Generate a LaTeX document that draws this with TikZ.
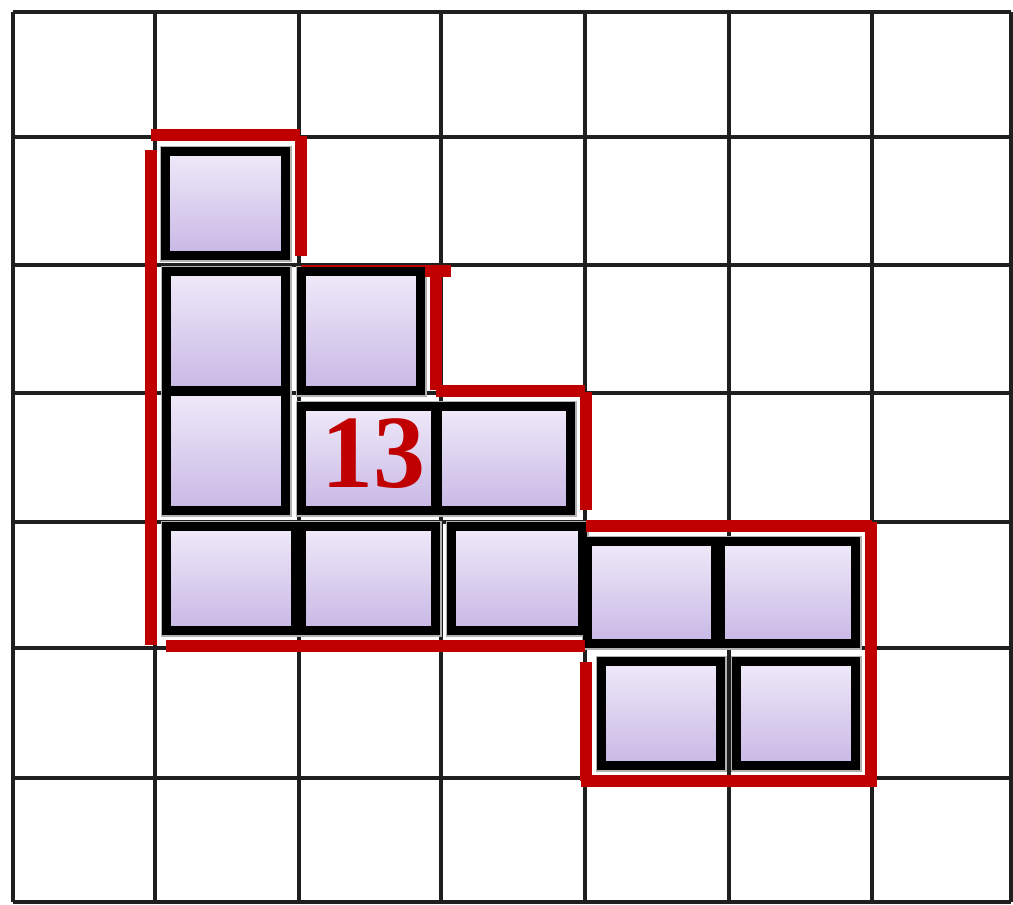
\documentclass[tikz,border=0pt]{standalone}
\usepackage{fontspec}
\newfontfamily\numfont{Liberation Serif}
\definecolor{redline}{HTML}{C00000}
\definecolor{boxtop}{HTML}{EFEAF9}
\definecolor{boxbot}{HTML}{C8B7E5}
\tikzset{
  gridline/.style={line width=4.2pt, black!88},
  redseg/.style={line width=11.5pt, redline},
  redthin/.style={line width=2pt, redline},
  halo/.style={line width=12pt, black!30},
  tile/.style={line width=9pt, black, top color=boxtop, bottom color=boxbot},
}
\newcommand{\tilebox}[4]{%
  \draw[halo] (#1+4.5,#2+4.5) rectangle (#3-4.5,#4-4.5);
}
\newcommand{\tilefill}[4]{%
  \draw[tile] (#1+4.5,#2+4.5) rectangle (#3-4.5,#4-4.5);
}
\begin{document}
\begin{tikzpicture}[x=1pt,y=-1pt]
\useasboundingbox (0,0) rectangle (1013,905);
\fill[white] (0,0) rectangle (1013,905);
% grid
\foreach \gx in {13,155,299,441,585,729,872,1011}
  \draw[gridline] (\gx,12) -- (\gx,902);
\foreach \gy in {12,137,265,393,522,648,778,902}
  \draw[gridline] (13,\gy) -- (1011,\gy);
% tiles: halos
\foreach \a/\b/\c/\d in {161/147/290/260, 162/267/290/395, 297/267/425/395,
  162/387/290/515, 297/402/440/515, 433/402/575/515,
  162/522/300/635, 297/522/440/635, 447/522/587/635,
  583/537/720/648, 716/537/860/648, 597/657/725/770, 732/657/860/770}
  {\tilebox{\a}{\b}{\c}{\d}}
% tiles
\foreach \a/\b/\c/\d in {161/147/290/260, 162/267/290/395, 297/267/425/395,
  162/387/290/515, 297/402/440/515, 433/402/575/515,
  162/522/300/635, 297/522/440/635, 447/522/587/635,
  583/537/720/648, 716/537/860/648, 597/657/725/770, 732/657/860/770}
  {\tilefill{\a}{\b}{\c}{\d}}
% red outline segments
\coordinate (r1a) at (151,150); \coordinate (r1b) at (151,645);
\coordinate (r2a) at (151,135); \coordinate (r2b) at (300,135);
\coordinate (r3a) at (301,136); \coordinate (r3b) at (301,256);
\coordinate (r4a) at (301,265.5); \coordinate (r4b) at (426,265.5);
\coordinate (r5a) at (425,271); \coordinate (r5b) at (451,271);
\coordinate (r6a) at (436,271); \coordinate (r6b) at (436,390);
\coordinate (r7a) at (436,391); \coordinate (r7b) at (585,391);
\coordinate (r8a) at (586,392); \coordinate (r8b) at (586,510);
\coordinate (r9a) at (586,526); \coordinate (r9b) at (872,526);
\coordinate (r10a) at (871,522); \coordinate (r10b) at (871,787);
\coordinate (r11a) at (581,781); \coordinate (r11b) at (871,781);
\coordinate (r12a) at (586,662); \coordinate (r12b) at (586,781);
\coordinate (r13a) at (166,646); \coordinate (r13b) at (585,646);
\draw[redseg] (r1a) -- (r1b);
\draw[redseg] (r2a) -- (r2b);
\draw[redseg] (r3a) -- (r3b);
\draw[redthin] (r4a) -- (r4b);
\draw[redseg] (r5a) -- (r5b);
\draw[redseg] (r6a) -- (r6b);
\draw[redseg] (r7a) -- (r7b);
\draw[redseg] (r8a) -- (r8b);
\draw[redseg] (r9a) -- (r9b);
\draw[redseg] (r10a) -- (r10b);
\draw[redseg] (r11a) -- (r11b);
\draw[redseg] (r12a) -- (r12b);
\draw[redseg] (r13a) -- (r13b);
% label
\node[anchor=base, inner sep=0pt, text=redline, font=\numfont\bfseries\fontsize{104}{104}\selectfont] (num) at (373,487) {13};
\end{tikzpicture}
\end{document}
